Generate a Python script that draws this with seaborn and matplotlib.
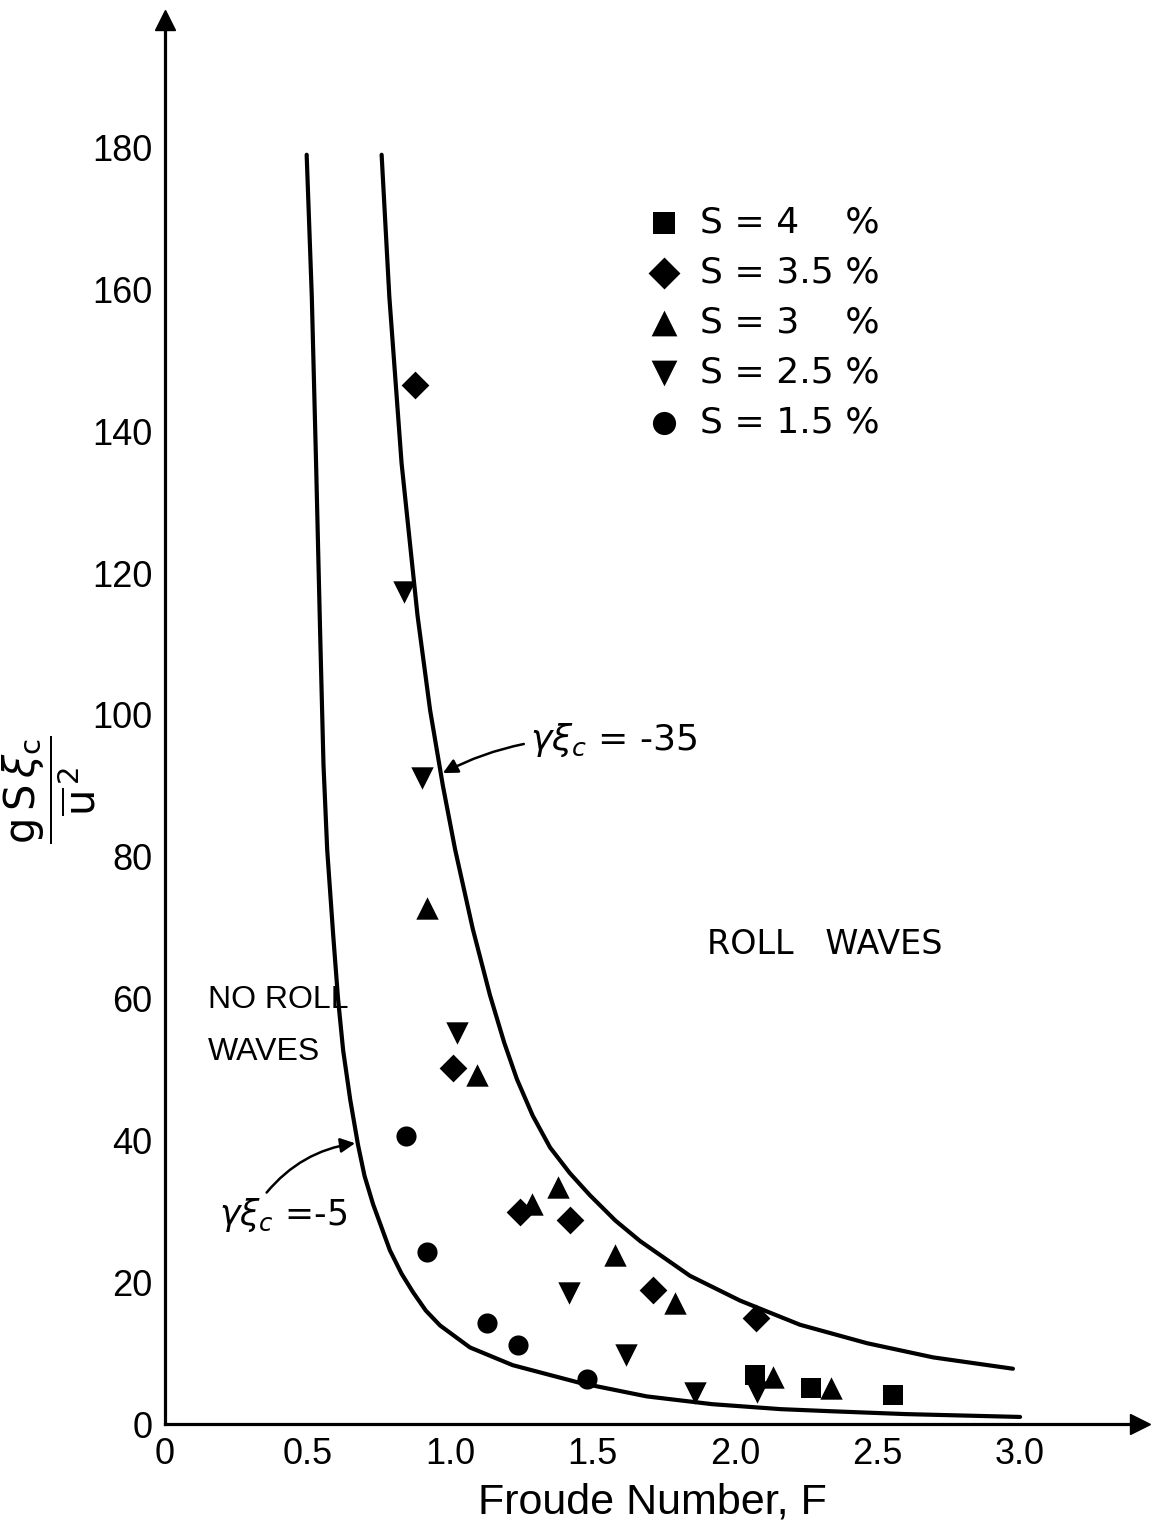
import matplotlib
matplotlib.use("Agg")
import matplotlib.pyplot as plt
import seaborn as sns
import pandas as pd

# ---------------- data ----------------
F_s40 = [2.07, 2.267, 2.555]
Y_s40 = [6.9, 5.1, 4.1]

F_s35 = [0.877, 1.011, 1.246, 1.421, 1.712, 2.074]
Y_s35 = [146.5, 50.2, 29.9, 28.8, 18.9, 15.0]

F_s30 = [0.919, 1.094, 1.288, 1.379, 1.579, 1.789, 2.133, 2.337]
Y_s30 = [72.8, 49.2, 31.0, 33.4, 23.8, 17.1, 6.6, 5.1]

F_s25 = [0.840, 0.902, 1.024, 1.418, 1.618, 1.860, 2.077]
Y_s25 = [117.3, 91.1, 55.1, 18.5, 9.7, 4.4, 4.5]

F_s15 = [0.846, 0.919, 1.130, 1.239, 1.481]
Y_s15 = [40.6, 24.3, 14.2, 11.1, 6.3]

series_labels = ["S = 4\u2007\u2008 %", "S = 3.5 %", "S = 3\u2007\u2008 %",
                 "S = 2.5 %", "S = 1.5 %"]

# curve gamma*xi_c = -5
F_c5 = [0.497, 0.515, 0.530, 0.544, 0.556, 0.569, 0.590, 0.607, 0.625, 0.650, 0.677,
        0.700, 0.730, 0.789, 0.830, 0.870, 0.915, 0.965, 1.070, 1.220, 1.456, 1.690,
        1.920, 2.160, 2.340, 2.600, 3.000]
Y_c5 = [179.0, 159.0, 135.5, 112.0, 93.0, 81.0, 69.0, 60.0, 52.7, 45.7, 39.4,
        35.0, 31.0, 24.5, 21.2, 18.6, 16.0, 13.9, 10.8, 8.3, 5.8, 3.9,
        2.8, 2.1, 1.8, 1.4, 1.0]

# curve gamma*xi_c = -35
F_c35 = [0.760, 0.787, 0.830, 0.886, 0.930, 0.975, 1.018, 1.080, 1.140, 1.190, 1.235,
         1.290, 1.351, 1.420, 1.490, 1.580, 1.667, 1.842, 2.018, 2.228, 2.463, 2.695,
         2.975]
Y_c35 = [179.0, 159.0, 135.5, 114.0, 100.7, 90.0, 81.0, 69.8, 60.5, 53.8, 48.6,
         43.5, 39.0, 35.4, 32.3, 28.7, 25.8, 20.9, 17.4, 14.0, 11.4, 9.4,
         7.8]

x_ticks = [0, 0.5, 1.0, 1.5, 2.0, 2.5, 3.0]
x_ticklabels = ["0", "0.5", "1.0", "1.5", "2.0", "2.5", "3.0"]
y_ticks = [0, 20, 40, 60, 80, 100, 120, 140, 160, 180]

# ---------------- build table ----------------
rows = []
for lab, fx, fy in zip(series_labels,
                       [F_s40, F_s35, F_s30, F_s25, F_s15],
                       [Y_s40, Y_s35, Y_s30, Y_s25, Y_s15]):
    for a, b in zip(fx, fy):
        rows.append({"F": a, "Y": b, "S": lab})
df = pd.DataFrame(rows)

sns.set_style("white")
plt.rcParams["font.family"] = ["DejaVu Sans"]
for k in ["text.color", "axes.labelcolor", "xtick.color", "ytick.color",
          "axes.edgecolor"]:
    plt.rcParams[k] = "black"
narrow = ["Liberation Sans Narrow", "Liberation Sans", "DejaVu Sans"]

fig = plt.figure(figsize=(11.67, 15.39), dpi=100)
ax = fig.add_axes([0.1414, 0.0747, 0.8355, 0.9123])

markers = dict(zip(series_labels, ["s", "D", "^", "v", "o"]))
sizes_by = dict(zip(series_labels, [190, 200, 260, 260, 210]))

for lab in series_labels:
    sub = df[df["S"] == lab]
    sns.scatterplot(data=sub, x="F", y="Y", marker=markers[lab], color="black",
                    s=sizes_by[lab], edgecolor="black", linewidth=0, ax=ax,
                    label=lab, zorder=3)

sns.lineplot(x=F_c5, y=Y_c5, color="black", lw=3.0, sort=False, estimator=None, ax=ax,
             legend=False)
sns.lineplot(x=F_c35, y=Y_c35, color="black", lw=3.0, sort=False, estimator=None, ax=ax,
             legend=False)

ax.set_xlim(0, 3.421)
ax.set_ylim(0, 198.0)

for sp in ["top", "right"]:
    ax.spines[sp].set_visible(False)
for sp in ["left", "bottom"]:
    ax.spines[sp].set_linewidth(2.3)
    ax.spines[sp].set_color("black")

# axis arrowheads
ax.plot([0], [1.0], marker="^", ms=15, color="black", transform=ax.transAxes,
        clip_on=False, zorder=5)
ax.plot([1.0], [0], marker=">", ms=15, color="black", transform=ax.transAxes,
        clip_on=False, zorder=5)

ax.set_xticks(x_ticks)
ax.set_xticklabels(x_ticklabels)
ax.set_yticks(y_ticks)
ax.set_yticklabels([str(v) for v in y_ticks])
ax.tick_params(axis="both", direction="in", length=10, width=2.0, color="black",
               labelsize=26, pad=9)
for t in ax.get_xticklabels() + ax.get_yticklabels():
    t.set_family(narrow)

ax.set_xlabel("Froude Number, F", fontsize=31, family=narrow, labelpad=8)
ax.set_ylabel(r"$\dfrac{\mathrm{g\,S}\,\xi_{\mathrm{c}}}{\overline{\mathrm{u}}^{\,2}}$",
              fontsize=30, rotation=90)
ax.yaxis.label.set_verticalalignment("center")
ax.yaxis.set_label_coords(-0.118, 0.452)

# legend
handles, labels = ax.get_legend_handles_labels()
leg = ax.legend(handles, labels, loc="upper left", bbox_to_anchor=(0.462, 0.891),
                frameon=False, fontsize=26, handletextpad=0.55, labelspacing=0.44,
                handlelength=0.9, markerscale=1.15)

# region labels
ax.text(1.90, 67.6, "ROLL   WAVES", fontsize=24, va="center", ha="left")
ax.text(0.15, 59.8, "NO ROLL", fontsize=23, va="center", ha="left", family=narrow)
ax.text(0.15, 52.5, "WAVES", fontsize=23, va="center", ha="left", family=narrow)

# curve annotations
ax.annotate(r"$\gamma\xi_c$ = -35", xy=(0.975, 91.8), xytext=(1.28, 96.5),
            fontsize=26, va="center", ha="left",
            arrowprops=dict(arrowstyle="-|>", color="black", lw=1.8,
                            mutation_scale=22, shrinkA=2, shrinkB=0,
                            connectionstyle="arc3,rad=0.15"))
ax.annotate(r"$\gamma\xi_c$ =-5", xy=(0.667, 39.6), xytext=(0.19, 29.5),
            fontsize=25, va="center", ha="left",
            arrowprops=dict(arrowstyle="-|>", color="black", lw=1.8,
                            mutation_scale=22, shrinkA=0, shrinkB=0,
                            relpos=(0.35, 1.0),
                            connectionstyle="arc3,rad=-0.2"))

fig.savefig("out.png", dpi=100)
